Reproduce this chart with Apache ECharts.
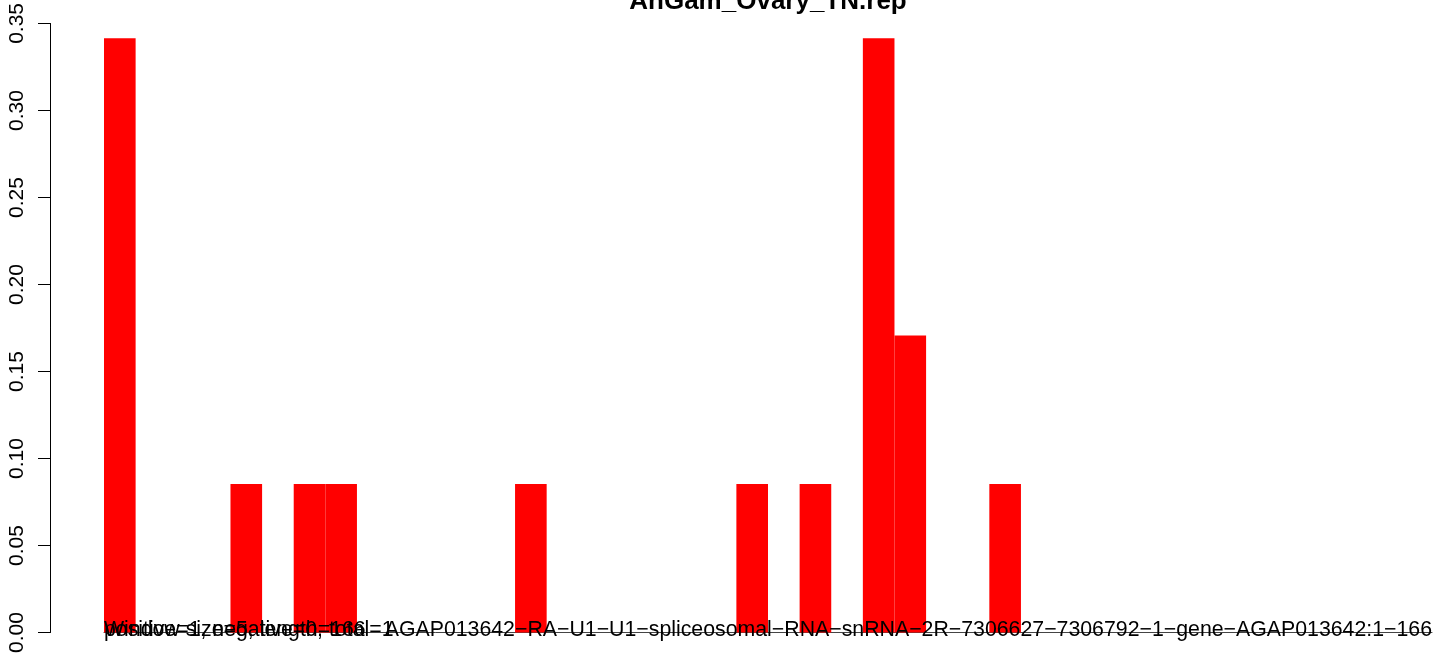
<!DOCTYPE html>
<html>
<head>
<meta charset="utf-8">
<script src="https://cdn.jsdelivr.net/npm/echarts@6/dist/echarts.min.js"></script>
<style>
html,body{margin:0;padding:0;background:#fff;}
#chart{width:1444px;height:656px;}
</style>
</head>
<body>
<div id="chart"></div>
<script>
const titleText = "AnGam_Ovary_TN.rep";
const categories = ["1","2","3","4","5","6","7","8","9","10","11","12","13","14","15","16","17","18","19","20","21","22","23","24","25","26","27","28","29","30","31","32","33","34","35","36","37","38","39","40","41","42"];
const values = [0.3415,0,0,0,0.0854,0,0.0854,0.0854,0,0,0,0,0,0.0854,0,0,0,0,0,0,0.0854,0,0.0854,0,0.3415,0.1707,0,0,0.0854,0,0,0,0,0,0,0,0,0,0,0,0,0];
const yTicks = [0, 0.05, 0.10, 0.15, 0.20, 0.25, 0.30, 0.35];
const bottomTexts = ["Window size=5, length=166", "positive=1, negative=0, total=1"];
const nameText = "AGAP013642\u2212RA\u2212U1\u2212U1\u2212spliceosomal\u2212RNA\u2212snRNA\u22122R\u22127306627\u22127306792\u22121\u2212gene\u2212AGAP013642:1\u2212166";

const FONT = "'Liberation Sans', Arial, Helvetica, sans-serif";
const chart = echarts.init(document.getElementById('chart'), null, {renderer: 'canvas'});
const gridLeft = 104, gridRight = 12, gridTop = 22, gridBottom = 21;

const option = {
  animation: false,
  backgroundColor: '#ffffff',
  grid: {left: gridLeft, right: gridRight, top: gridTop, bottom: gridBottom, containLabel: false},
  xAxis: {
    type: 'category',
    data: categories,
    boundaryGap: true,
    axisLine: {show: true, lineStyle: {color: '#444', width: 1}},
    axisTick: {show: false},
    axisLabel: {show: false},
    splitLine: {show: false}
  },
  yAxis: {
    type: 'value',
    min: yTicks[0],
    max: yTicks[yTicks.length - 1],
    interval: 0.05,
    position: 'left',
    offset: 54,
    axisLine: {show: true, lineStyle: {color: '#000', width: 1}},
    axisTick: {show: true, length: 12, lineStyle: {color: '#000', width: 1}},
    splitLine: {show: false},
    axisLabel: {
      rotate: 90,
      margin: 22,
      fontSize: 21,
      fontFamily: FONT,
      color: '#000',
      formatter: v => v.toFixed(2)
    }
  },
  series: [{
    type: 'bar',
    data: values,
    barWidth: '100%',
    barCategoryGap: '0%',
    itemStyle: {color: '#ff0000'},
    silent: true
  }],
  graphic: [
    {type: 'text', z: 100, style: {text: titleText, x: 768, y: 2, align: 'center', verticalAlign: 'middle', font: "bold 26px " + FONT, fill: '#000'}},
    {type: 'text', z: 100, style: {text: bottomTexts[0], x: gridLeft, y: 630, align: 'left', verticalAlign: 'middle', font: "21.3px " + FONT, fill: '#000'}},
    {type: 'text', z: 100, style: {text: bottomTexts[1], x: gridLeft, y: 630, align: 'left', verticalAlign: 'middle', font: "21.3px " + FONT, fill: '#000'}},
    {type: 'text', z: 100, style: {text: nameText, x: 1432, y: 630, align: 'right', verticalAlign: 'middle', font: "21.3px " + FONT, fill: '#000'}}
  ]
};
chart.setOption(option);
</script>
</body>
</html>
